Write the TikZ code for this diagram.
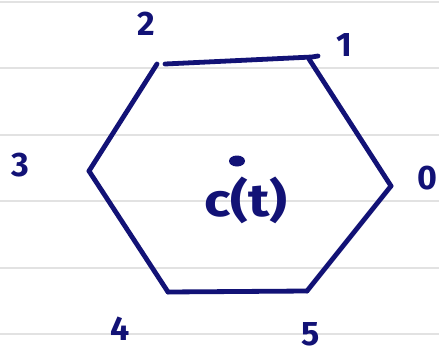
\documentclass[tikz,border=0pt]{standalone}
\usepackage{fontspec}
\setmainfont{Fira Sans}
\definecolor{ink}{RGB}{18,18,118}
\definecolor{ruleline}{RGB}{226,226,226}
\begin{document}
\begin{tikzpicture}[x=1pt,y=-1pt,
  ruled/.style={draw=ruleline,line width=2pt},
  edge/.style={draw=ink,line width=4.8pt,line cap=round,line join=round},
  lbl/.style={text=ink,font=\fontsize{34}{34}\selectfont\bfseries,inner sep=0pt}]
\useasboundingbox (0,0) rectangle (439,356);
\clip (0,0) rectangle (439,356);
\fill[white] (0,0) rectangle (439,356);
% ruled paper lines
\foreach \yy/\nm in {2/r0,68/r1,135/r2,201/r3,268/r4,334/r5}{
  \coordinate (\nm a) at (0,\yy);
  \coordinate (\nm b) at (439,\yy);
  \draw[ruled] (\nm a) -- (\nm b);
}
% hexagon vertices
\coordinate (v0) at (391,186);
\coordinate (v1) at (312,57);
\coordinate (v2) at (157,64);
\coordinate (v3) at (89,171);
\coordinate (v4) at (168,292);
\coordinate (v5) at (307,291);
\draw[edge] (v2) ++(8,0) -- (v1) -- ++(6,-1);
\draw[edge] (v1) ++(-3,2) -- (v0);
\draw[edge] (v0) -- (v5);
\draw[edge] (v5) -- (v4);
\draw[edge] (v4) -- (v3);
\draw[edge] (v3) -- (v2);
% labels
\node[lbl] (l0) at (427,178) {0};
\node[lbl] (l1) at (344,45) {1};
\node[lbl] (l2) at (146,24) {2};
\node[lbl] (l3) at (20,165) {3};
\node[lbl] (l4) at (120,329) {4};
\node[lbl] (l5) at (311,334) {5};
% centre
\coordinate (ctr) at (237,161);
\fill[ink] (ctr) ellipse [x radius=8, y radius=5.5];
\node[lbl,font=\fontsize{46}{46}\selectfont\bfseries,xscale=1.2] (ct) at (246,200) {c(t)};
\end{tikzpicture}
\end{document}
